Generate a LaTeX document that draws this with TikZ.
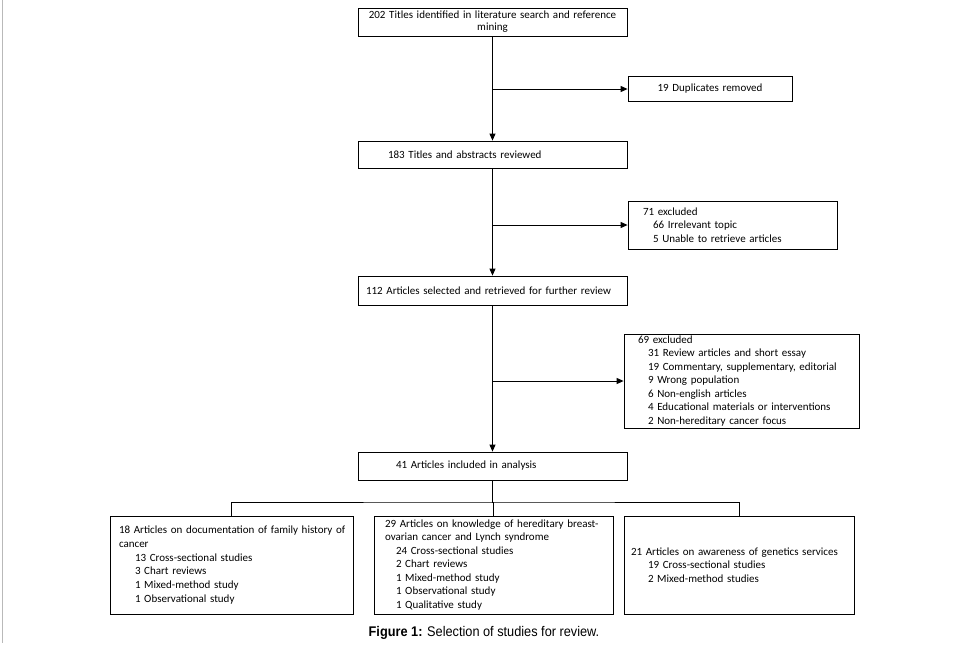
\documentclass[tikz,border=0pt]{standalone}
\usepackage{fontspec}
\usepackage{graphicx}
\setmainfont{Carlito}
\newfontfamily\capfont{Liberation Sans}
\usetikzlibrary{arrows.meta}
\tikzset{
  box/.style={draw, line width=0.8pt, align=left, inner ysep=1pt,
    font=\fontsize{11}{13.7}\selectfont},
  conn/.style={line width=1pt},
  arr/.style={conn, -{Triangle[length=7pt,width=6pt]}},
}
\newcommand{\ind}[1]{\hspace*{#1pt}}
\begin{document}
\begin{tikzpicture}[x=1pt,y=-1pt]
\useasboundingbox (0,0) rectangle (963,645);
\fill[white] (0,0) rectangle (963,645);
\draw[gray!55, line width=1pt] (2.5,0) -- (2.5,643);

\node[box, align=center, inner xsep=4pt, text width=261pt, minimum height=28pt, inner ysep=0pt,
  font=\fontsize{11}{12}\selectfont] (t1) at (492.5,22)
  {202 Titles identified in literature search and reference\\mining};
\node[box, align=center, inner xsep=4pt, text width=156pt, minimum height=25pt] (dup) at (710,88.5)
  {19 Duplicates removed};
\node[box, inner xsep=4pt, text width=261pt, minimum height=27pt] (t2) at (492.5,154.5)
  {\ind{26}183 Titles and abstracts reviewed};
\node[box, inner xsep=15pt, text width=179pt, minimum height=48pt] (ex1) at (732.5,225)
  {71 excluded\\\ind{10}66 Irrelevant topic\\\ind{10}5 Unable to retrieve articles};
\node[box, inner xsep=4pt, text width=261pt, minimum height=29pt] (t3) at (492.5,290.5)
  {\ind{4}112 Articles selected and retrieved for further review};
\node[box, inner xsep=14pt, text width=207pt, minimum height=94pt, inner ysep=0pt,
  font=\fontsize{11}{13.5}\selectfont] (ex2) at (741.5,381)
  {69 excluded\\\ind{10}31 Review articles and short essay\\\ind{10}19 Commentary, supplementary, editorial\\\ind{10}9 Wrong population\\\ind{10}6 Non-english articles\\\ind{10}4 Educational materials or interventions\\\ind{10}2 Non-hereditary cancer focus};
\node[box, inner xsep=4pt, text width=261pt, minimum height=28pt] (t4) at (492.5,466)
  {\ind{34}41 Articles included in analysis};

\node[box, inner xsep=9pt, text width=225pt, minimum height=98pt] (c1) at (231.5,565)
  {\mbox{18 Articles on documentation of family history of}\\cancer\\\ind{16}13 Cross-sectional studies\\\ind{16}3 Chart reviews\\\ind{16}1 Mixed-method study\\\ind{16}1 Observational study};
\node[box, inner xsep=11pt, text width=217pt, minimum height=98pt, inner ysep=0pt,
  font=\fontsize{11}{13.5}\selectfont] (c2) at (493.5,565)
  {\mbox{29 Articles on knowledge of hereditary breast-}\\ovarian cancer and Lynch syndrome\\\ind{11}24 Cross-sectional studies\\\ind{11}2 Chart reviews\\\ind{11}1 Mixed-method study\\\ind{11}1 Observational study\\\ind{11}1 Qualitative study};
\node[box, inner xsep=7pt, text width=216pt, minimum height=98pt] (c3) at (739,565)
  {21 Articles on awareness of genetics services\\\ind{17}19 Cross-sectional studies\\\ind{17}2 Mixed-method studies};

\coordinate (j1) at (492.5,89);
\coordinate (j2) at (492.5,225);
\coordinate (j3) at (492.5,381);
\coordinate (sp) at (492.5,502);

\draw[arr] (t1.south) -- (t2.north);
\draw[arr] (t2.south) -- (t3.north);
\draw[arr] (t3.south) -- (t4.north);
\draw[arr] (j1) -- (j1 -| dup.west);
\draw[arr] (j2) -- (j2 -| ex1.west);
\draw[arr] (j3) -- (j3 -| ex2.west);
\draw[conn] (t4.south) -- (sp) -- (sp -| c2.north) -- (c2.north);
\draw[conn] (c1.north) |- (sp) -| (c3.north);

\node[font=\capfont\fontsize{14}{16}\selectfont] (cap) at (484,633)
  {\scalebox{0.91}[1]{\textbf{Figure 1:} Selection of studies for review.}};
\end{tikzpicture}
\end{document}
